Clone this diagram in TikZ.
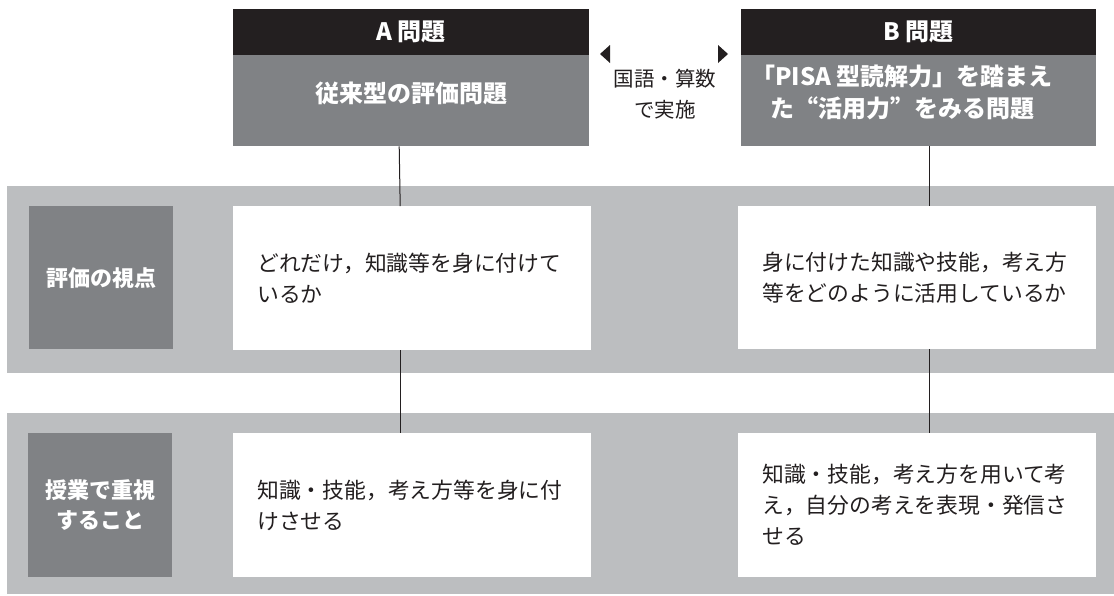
\documentclass[tikz,border=0pt]{standalone}
\usepackage{fontspec}
\setmainfont{Noto Sans CJK JP}
\newcommand{\fwq}[1]{{\addfontfeature{CharacterWidth=Full}#1}}
\definecolor{hdark}{RGB}{35,31,32}
\definecolor{hgray}{RGB}{128,130,133}
\definecolor{bandgray}{RGB}{188,190,192}
\definecolor{txt}{RGB}{35,31,32}
\tikzset{
  topbar/.style={fill=hdark, draw=none, inner sep=0pt, anchor=north west, text=white, font=\bfseries\fontsize{24}{31}\selectfont},
  graybox/.style={fill=hgray, draw=none, inner sep=0pt, anchor=north west},
  hdrtext/.style={text=white, font=\bfseries\fontsize{24}{32}\selectfont, align=center, inner sep=0pt},
  bandbox/.style={fill=bandgray, draw=none, inner sep=0pt, anchor=north west},
  labelbox/.style={fill=hgray, draw=none, inner sep=0pt, anchor=north west, text=white, align=center, font=\bfseries\fontsize{22}{30}\selectfont},
  whitebox/.style={fill=white, draw=none, anchor=north west, inner xsep=24pt, inner ysep=0pt, text width=310pt, align=left, text=txt, font=\fontsize{21.8}{31}\selectfont},
  midtext/.style={text=txt, font=\fontsize{20.5}{31}\selectfont, align=center, inner sep=0pt},
  link/.style={draw=txt, line width=1pt},
  tri/.style={fill=hdark, draw=none}
}
\begin{document}
\begin{tikzpicture}[x=1pt, y=-1pt]
\useasboundingbox (0,0) rectangle (1114,595);
% bands
\node[bandbox, minimum width=1107pt, minimum height=187pt] (band1) at (7,186) {};
\node[bandbox, minimum width=1107pt, minimum height=181pt] (band2) at (7,413) {};
% headers
\node[topbar, minimum width=356pt, minimum height=46pt] (atop) at (233,9) {A 問題};
\node[graybox, minimum width=356pt, minimum height=91pt] (ahead) at (233,55) {};
\node[hdrtext] (atext) at (411,93) {従来型の評価問題};
\node[topbar, minimum width=355pt, minimum height=46pt] (btop) at (741,9) {B 問題};
\node[graybox, minimum width=355pt, minimum height=91pt] (bhead) at (741,55) {};
\node[hdrtext] (btext) at (902,92) {「PISA 型読解力」を踏まえ\\た\fwq{“}活用力\fwq{”}をみる問題};
% middle
\node[midtext] (mid) at (665,94) {国語・算数\\で実施};
\fill[tri] (600,54) -- (610,45) -- (610,63) -- cycle;
\fill[tri] (728,54) -- (718,45) -- (718,63) -- cycle;
% label boxes
\node[labelbox, minimum width=144pt, minimum height=143pt] (l1) at (29,206) {評価の視点};
\node[labelbox, minimum width=144pt, minimum height=144pt] (l2) at (28,433) {授業で重視\\すること};
% white boxes
\node[whitebox, minimum height=144pt] (a1) at (233,206) {どれだけ，知識等を身に付けて\\いるか};
\node[whitebox, minimum height=144pt] (a2) at (233,433) {知識・技能，考え方等を身に付\\けさせる};
\node[whitebox, minimum height=143pt] (b1) at (738,206) {身に付けた知識や技能，考え方\\等をどのように活用しているか};
\node[whitebox, minimum height=144pt] (b2) at (738,433) {知識・技能，考え方を用いて考\\え，自分の考えを表現・発信さ\\せる};
% connectors
\draw[link] ([xshift=-12pt]ahead.south) -- ([xshift=-12pt]a1.north);
\draw[link] ([xshift=-12pt]a1.south) -- ([xshift=-12pt]a2.north);
\draw[link] ([xshift=10.5pt]bhead.south) -- ([xshift=12pt]b1.north);
\draw[link] ([xshift=12pt]b1.south) -- ([xshift=12pt]b2.north);
\end{tikzpicture}
\end{document}
